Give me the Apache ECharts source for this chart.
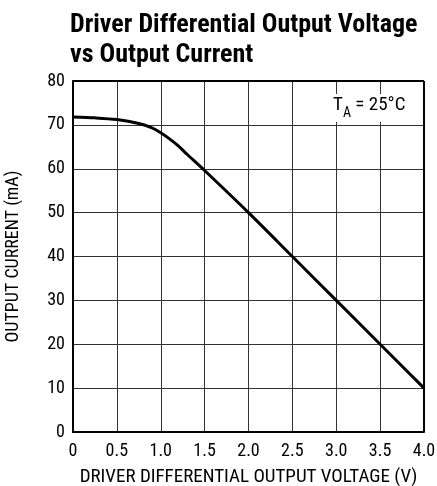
<!DOCTYPE html>
<html>
<head>
<meta charset="utf-8">
<script src="https://cdn.jsdelivr.net/npm/echarts@6/dist/echarts.min.js"></script>
<style>
  html, body { margin: 0; padding: 0; background: #fff; }
  #chart { width: 437px; height: 486px; }
</style>
</head>
<body>
<div id="chart"></div>
<script>
// values
const voltage = [0, 0.25, 0.5, 0.75, 0.9, 1.0, 1.1, 1.2, 1.3, 1.5, 2.0, 2.5, 3.0, 3.5, 4.0];
const current = [71.8, 71.6, 71.2, 70.3, 69.3, 68.2, 66.8, 65.2, 63.3, 59.6, 50, 40, 30, 20, 10];
const xTicks = ["0", "0.5", "1.0", "1.5", "2.0", "2.5", "3.0", "3.5", "4.0"];
const yTicks = ["0", "10", "20", "30", "40", "50", "60", "70", "80"];

const font = "'Liberation Sans Narrow', 'Roboto Condensed', 'Liberation Sans', sans-serif";

const myChart = echarts.init(document.getElementById("chart"));
const option = {
  animation: false,
  title: {
    text: "Driver Differential Output Voltage\nvs Output Current",
    left: 65,
    top: 5,
    textStyle: {
      fontFamily: font,
      fontWeight: "bold",
      fontSize: 26,
      lineHeight: 30,
      color: "#000"
    }
  },
  grid: { left: 73, right: 13, top: 81, bottom: 54, outerBoundsMode: "none" },
  xAxis: {
    type: "value",
    min: 0,
    max: 4,
    interval: 0.5,
    name: "DRIVER DIFFERENTIAL OUTPUT VOLTAGE (V)",
    nameLocation: "middle",
    nameGap: 36,
    nameTextStyle: { fontFamily: font, fontSize: 19, color: "#000" },
    axisLine: { lineStyle: { color: "#000", width: 2 } },
    axisTick: { show: false },
    axisLabel: {
      fontFamily: font,
      fontSize: 18,
      color: "#000",
      margin: 10,
      formatter: v => xTicks[Math.round(v / 0.5)]
    },
    splitLine: { lineStyle: { color: "#333", width: 1 } }
  },
  yAxis: {
    type: "value",
    min: 0,
    max: 80,
    interval: 10,
    name: "OUTPUT CURRENT (mA)",
    nameLocation: "middle",
    nameGap: 51,
    nameTextStyle: { fontFamily: font, fontSize: 18, color: "#000" },
    axisLine: { show: true, lineStyle: { color: "#000", width: 2 } },
    axisTick: { show: false },
    axisLabel: {
      fontFamily: font,
      fontSize: 18,
      color: "#000",
      margin: 8,
      formatter: v => yTicks[Math.round(v / 10)]
    },
    splitLine: { lineStyle: { color: "#333", width: 1 } }
  },
  series: [
    {
      type: "line",
      data: voltage.map((v, i) => [v, current[i]]),
      smooth: 0.3,
      showSymbol: false,
      lineStyle: { color: "#000", width: 3 },
      z: 5
    },
    {
      // frame on top and right
      type: "line",
      data: [],
      markLine: {
        silent: true,
        symbol: "none",
        label: { show: false },
        lineStyle: { color: "#000", width: 2, type: "solid" },
        data: [{ yAxis: 80 }, { xAxis: 4 }]
      }
    }
  ],
  graphic: [
    {
      type: "text",
      left: 331,
      top: 94,
      z: 10,
      style: {
        text: "{t|T}{s|A}{t| = 25°C}",
        backgroundColor: "#fff",
        padding: [2, 2, 2, 2],
        rich: {
          t: { fontFamily: font, fontSize: 19, color: "#000", verticalAlign: "top", lineHeight: 24 },
          s: { fontFamily: font, fontSize: 14, color: "#000", padding: [10, 0, 0, 0], lineHeight: 24 }
        }
      }
    }
  ]
};
myChart.setOption(option);
</script>
</body>
</html>
